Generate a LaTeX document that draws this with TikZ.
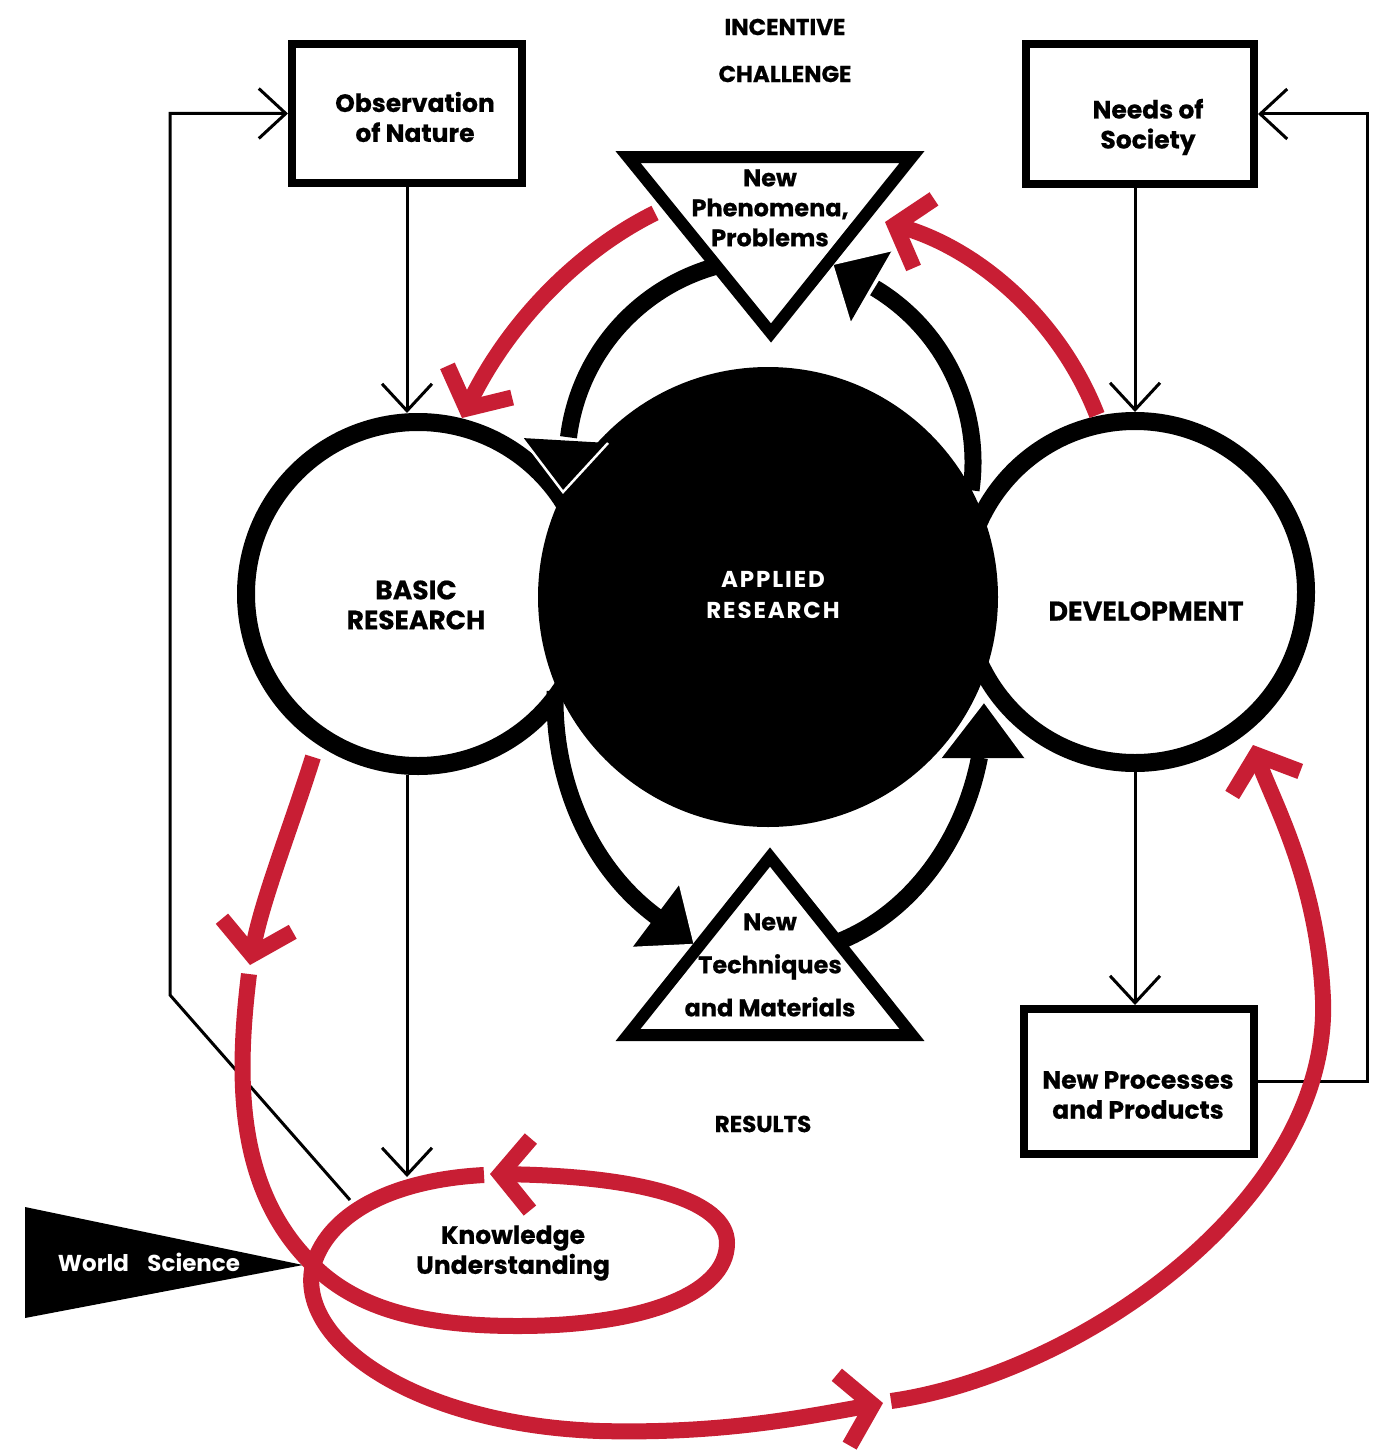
\documentclass[tikz,border=0pt]{standalone}
\usepackage{fontspec}
\setmainfont{Poppins}
\newfontfamily\spaced{Poppins}[LetterSpace=8]
\usetikzlibrary{arrows.meta,calc}
\definecolor{rd}{RGB}{200,30,52}
\newcommand{\hvy}{\bfseries\addfontfeature{FakeBold=0.6}}
\begin{document}
\begin{tikzpicture}[x=1pt,y=-1pt,
  lbl/.style={font=\hvy\fontsize{25}{30}\selectfont, align=center, inner sep=0pt},
  capl/.style={font=\hvy\fontsize{23}{26}\selectfont, inner sep=0pt},
  box/.style={draw, line width=8pt, fill=white, inner sep=0pt},
  ring/.style={circle, draw, line width=18pt, fill=white, inner sep=0pt},
  thinarr/.style={line width=3pt, -{Straight Barb[length=27pt,width=50pt]}},
  bigarc/.style={line width=17pt},
  headfill/.style={fill=black},
  headedge/.style={draw=white, line width=2.5pt},
  redarr/.style={draw=rd, line width=16pt, -{Straight Barb[length=30pt,width=72pt]}},
  tri/.style={draw, line width=12pt, fill=white, line join=miter},
]
% background / bounding box
\fill[white] (0,0) rectangle (1381,1453);
\useasboundingbox (0,0) rectangle (1381,1453);

% ---- circles ----
\node[ring, minimum size=344pt] (basic) at (418,594) {};
\node[ring, minimum size=342pt] (dev) at (1135,592) {};
\node[circle, fill=black, inner sep=0pt, minimum size=460pt] (app) at (768,597) {};

% ---- thick black arcs ----
\coordinate (tc) at (770,462);
\coordinate (bc) at (770,700);
\draw[bigarc] ($(tc)+(262:203)$) arc[start angle=262, end angle=187, radius=203];
\draw[bigarc] ($(tc)+(8:203)$) arc[start angle=8, end angle=-59, radius=203];
\draw[bigarc] ($(bc)+(182:215 and 255)$) arc[start angle=182, end angle=121, x radius=215, y radius=255];
\draw[bigarc] ($(bc)+(80:215 and 255)$) arc[start angle=80, end angle=13, x radius=215, y radius=255];

% arrowheads of the thick arcs
\coordinate (a1t) at (563,492); \coordinate (a1a) at (522,438); \coordinate (a1b) at (608,443);
\coordinate (a2t) at (832,264); \coordinate (a2a) at (892,250); \coordinate (a2b) at (850,323);
\coordinate (a3t) at (695,945); \coordinate (a3a) at (680,884); \coordinate (a3b) at (632,948);
\coordinate (a4t) at (984,701); \coordinate (a4a) at (1026,758); \coordinate (a4b) at (940,758);
\foreach \t/\a/\b in {a1t/a1a/a1b, a2t/a2a/a2b, a3t/a3a/a3b, a4t/a4a/a4b}{
  \fill[headfill] (\a) -- (\t) -- (\b) -- cycle;
  \draw[headedge] (\a) -- (\t) -- (\b);
}

% ---- triangles ----
\draw[tri] (628,157) coordinate (p1) -- (912,157) coordinate (p2) -- (771,333) coordinate (p3) -- cycle;
\draw[tri] (770,857) coordinate (q1) -- (912,1035) coordinate (q2) -- (628,1035) coordinate (q3) -- cycle;
\node[lbl, font=\hvy\fontsize{24}{30}\selectfont] (phen) at (770,208) {New\\Phenomena,\\Problems};
\node[lbl, font=\hvy\fontsize{24}{43}\selectfont] (tech) at (770,965) {New\\Techniques\\and Materials};

% ---- boxes ----
\node[box, minimum width=230pt, minimum height=139pt] (obs) at (407,113.5) {};
\node[box, minimum width=228pt, minimum height=140pt] (needs) at (1140,114) {};
\node[box, minimum width=230pt, minimum height=145pt] (proc) at (1139,1081.5) {};
\node[lbl] (obst) at (415,117) {Observation\\of Nature};
\node[lbl] (needst) at (1148,127) {Needs of\\Society};
\node[lbl] (proct) at (1138,1095) {New Processes\\and Products};

% ---- world science ----
\fill (25,1207) -- (303,1265) coordinate (ws) -- (25,1318) -- cycle;
\node[text=white, inner sep=0pt, font=\bfseries\fontsize{23}{26}\selectfont] (wst) at (149,1262) {World\hspace{0.8em}Science};

% ---- thin black connectors ----
\coordinate (kntop) at (407,1177);
\coordinate (knl) at (350,1200);
\draw[thinarr] (obs.south) -- (obs.south |- basic.north);
\draw[thinarr] (basic.south -| obs.south) -- (kntop);
\draw[thinarr] (knl) -- (170,995) -- (170,113.5) -- (obs.west);
\draw[thinarr] (dev.north |- needs.south) -- (dev.north);
\draw[thinarr] (dev.south) -- (dev.south |- proc.north);
\draw[thinarr] (proc.east) -- ++(109,0) |- (needs.east);

% ---- red flows ----
\draw[redarr] (655,213) .. controls (580,250) and (510,320) .. (462,418);
\draw[redarr] (1097,415) .. controls (1060,320) and (980,250) .. (885,222);
\draw[redarr] (313,757) .. controls (290,830) and (262,900) .. (250,965);
\draw[redarr] (249,974) .. controls (236,1080) and (236,1190) .. (313,1265)
   .. controls (360,1312) and (430,1326) .. (518,1326)
   .. controls (640,1326) and (727,1295) .. (727,1243)
   .. controls (727,1200) and (640,1176) .. (490,1174);
\draw[redarr] (484,1175) .. controls (390,1180) and (325,1215) .. (312,1270)
   .. controls (300,1345) and (420,1425) .. (600,1431)
   .. controls (720,1434) and (800,1418) .. (883,1403);
\draw[redarr] (891,1401) .. controls (1080,1374) and (1330,1200) .. (1323,1000)
   .. controls (1318,880) and (1272,800) .. (1253,745);

% ---- circle labels ----
\node[lbl, font=\hvy\fontsize{26.5}{30}\selectfont] (basict) at (416,605) {BASIC\\RESEARCH};
\node[lbl, text=white, font=\spaced\bfseries\fontsize{23}{31}\selectfont] (appt) at (773,595) {APPLIED\\RESEARCH};
\node[lbl, font=\hvy\fontsize{27}{30}\selectfont] (devt) at (1146,611) {DEVELOPMENT};
\node[lbl] (knt) at (513,1253) {Knowledge\\Understanding};

% ---- headings ----
\node[capl] (inc) at (785,27) {INCENTIVE};
\node[capl] (cha) at (785,74) {CHALLENGE};
\node[capl] (res) at (763,1124) {RESULTS};
\end{tikzpicture}
\end{document}
